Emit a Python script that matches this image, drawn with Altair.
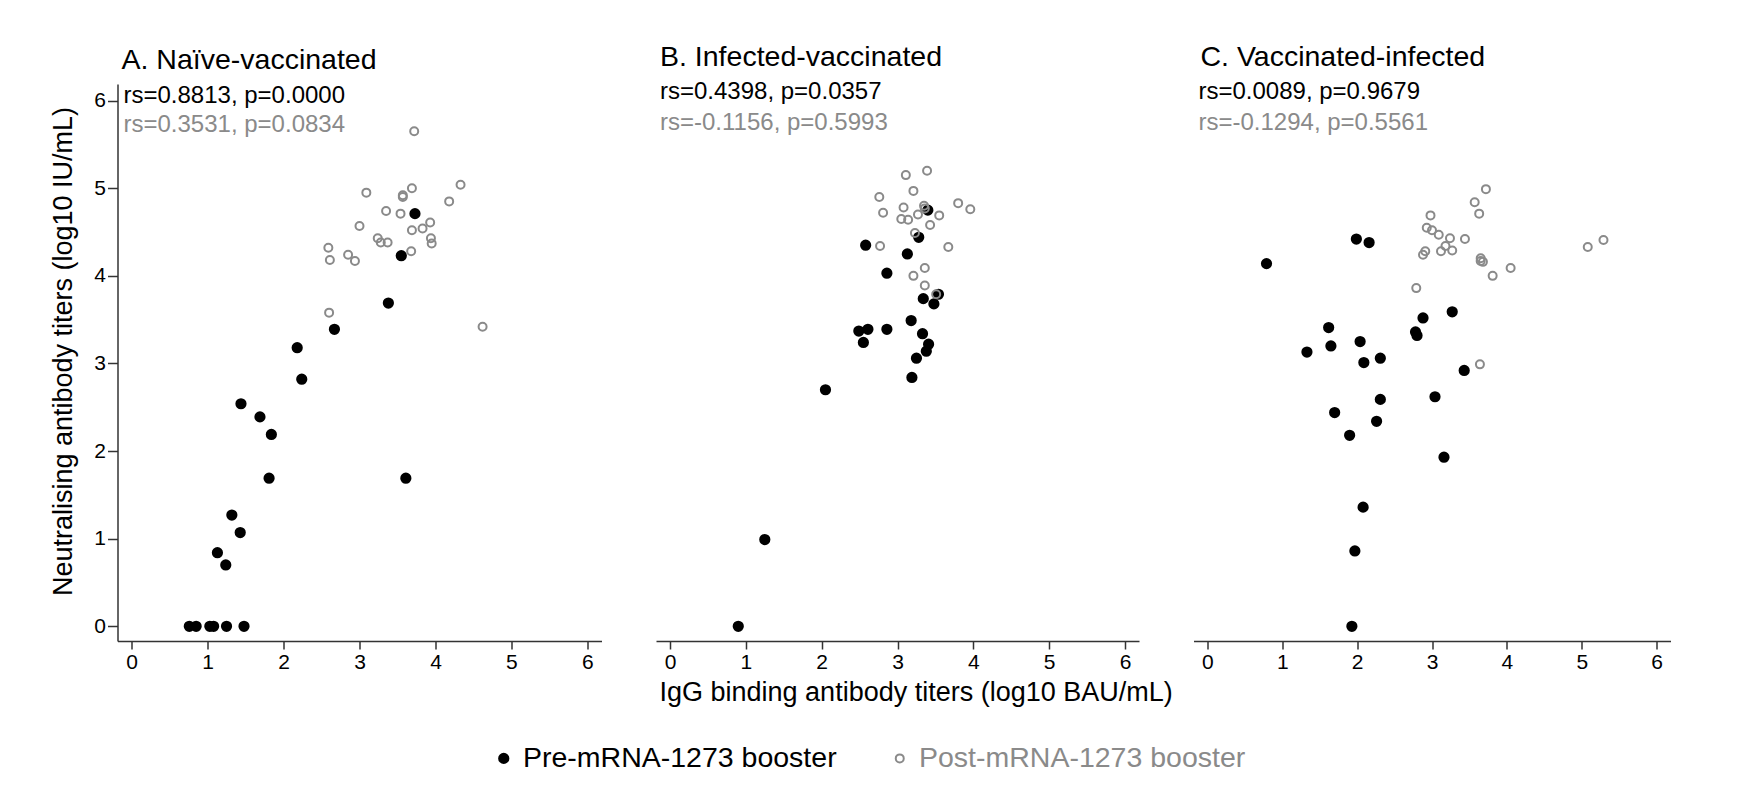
import altair as alt
import pandas as pd

FONT = "Liberation Sans"
GRAY = "#8a8a8a"

panels = ["A. Naïve-vaccinated", "B. Infected-vaccinated", "C. Vaccinated-infected"]
groups = ["Pre-mRNA-1273 booster", "Post-mRNA-1273 booster"]
rs_pre = ["rs=0.8813, p=0.0000", "rs=0.4398, p=0.0357", "rs=0.0089, p=0.9679"]
rs_post = ["rs=0.3531, p=0.0834", "rs=-0.1156, p=0.5993", "rs=-0.1294, p=0.5561"]
x_ticks = [0, 1, 2, 3, 4, 5, 6]
y_ticks = [0, 1, 2, 3, 4, 5, 6]

# Panel A
a_pre_x = [3.73, 3.55, 3.38, 2.67, 2.18, 2.24, 1.44, 1.69, 1.84, 1.81, 3.61, 1.32, 1.43, 1.13, 1.24,
           0.76, 0.85, 1.03, 1.08, 1.25, 1.48]
a_pre_y = [4.71, 4.23, 3.69, 3.39, 3.18, 2.82, 2.54, 2.39, 2.19, 1.69, 1.69, 1.27, 1.07, 0.84, 0.70,
           0, 0, 0, 0, 0, 0]
a_post_x = [3.72, 4.33, 3.09, 3.69, 3.57, 3.57, 4.18, 3.35, 3.54, 3.00, 3.93, 3.83, 3.69, 3.24, 3.28,
            3.37, 3.94, 3.95, 3.68, 2.59, 2.61, 2.85, 2.94, 2.60, 4.62]
a_post_y = [5.65, 5.04, 4.95, 5.00, 4.92, 4.90, 4.85, 4.74, 4.71, 4.57, 4.61, 4.54, 4.52, 4.43, 4.38,
            4.38, 4.43, 4.37, 4.28, 4.32, 4.18, 4.24, 4.17, 3.58, 3.42]

# Panel B
b_pre_x = [3.40, 3.28, 2.58, 3.13, 2.86, 3.54, 3.34, 3.48, 3.18, 2.49, 2.61, 2.86, 2.55, 3.33, 3.41,
           3.38, 3.25, 3.19, 2.05, 1.25, 0.90]
b_pre_y = [4.75, 4.44, 4.35, 4.25, 4.03, 3.79, 3.74, 3.68, 3.49, 3.37, 3.39, 3.39, 3.24, 3.34, 3.22,
           3.14, 3.06, 2.84, 2.70, 0.99, 0.00]
b_post_x = [3.39, 3.11, 3.21, 2.76, 3.80, 3.96, 2.81, 3.08, 3.35, 3.36, 3.27, 3.55, 3.05, 3.14, 3.43,
            3.23, 2.77, 3.67, 3.36, 3.21, 3.36, 3.51]
b_post_y = [5.20, 5.15, 4.97, 4.90, 4.83, 4.76, 4.72, 4.78, 4.80, 4.77, 4.70, 4.69, 4.65, 4.64, 4.58,
            4.49, 4.34, 4.33, 4.09, 4.00, 3.89, 3.79]

# Panel C
c_pre_x = [0.79, 1.99, 2.16, 3.27, 2.88, 2.78, 2.80, 1.62, 1.65, 2.04, 1.33, 2.31, 2.09, 3.43, 2.31,
           3.04, 1.70, 2.26, 1.90, 3.16, 2.08, 1.97, 1.93]
c_pre_y = [4.14, 4.42, 4.38, 3.59, 3.52, 3.36, 3.32, 3.41, 3.20, 3.25, 3.13, 3.06, 3.01, 2.92, 2.59,
           2.62, 2.44, 2.34, 2.18, 1.93, 1.36, 0.86, 0.00]
c_post_x = [3.72, 3.57, 3.63, 2.98, 2.93, 3.00, 3.09, 3.24, 3.44, 3.18, 3.12, 3.27, 2.91, 2.88, 3.65,
            3.65, 3.68, 4.05, 3.81, 5.08, 5.29, 2.79, 3.64]
c_post_y = [4.99, 4.84, 4.71, 4.69, 4.55, 4.52, 4.47, 4.43, 4.42, 4.34, 4.28, 4.29, 4.28, 4.24, 4.20,
            4.17, 4.16, 4.09, 4.00, 4.33, 4.41, 3.86, 2.99]

series = [
    (a_pre_x, a_pre_y, a_post_x, a_post_y),
    (b_pre_x, b_pre_y, b_post_x, b_post_y),
    (c_pre_x, c_pre_y, c_post_x, c_post_y),
]

widths = [484, 483, 477]
HEIGHT = 557
text_pos = [(6, 18.5, 48), (4, 15, 46), (5, 15, 45.5)]
title_dx = [4, 4, 7]

legend = alt.Legend(
    title=None, orient="none", legendX=372, legendY=660, direction="horizontal",
    labelFontSize=28.5, labelFont=FONT, labelLimit=600, padding=0, columnPadding=48, labelOffset=5,
    symbolStrokeWidth=2,
    labelColor={"expr": f"datum.label == '{groups[1]}' ? '{GRAY}' : 'black'"},
)


def make_panel(i):
    px, py, qx, qy = series[i]
    df = pd.DataFrame({
        "x": list(px) + list(qx),
        "y": list(py) + list(qy),
        "group": [groups[0]] * len(px) + [groups[1]] * len(qx),
    })
    if i == 1:
        xaxis = alt.Axis(values=x_ticks, format="d", tickSize=8, labelPadding=2, labelFlush=False,
                         title="IgG binding antibody titers (log10 BAU/mL)", titlePadding=7,
                         titleAlign="left", titleX=3)
    else:
        xaxis = alt.Axis(values=x_ticks, format="d", tickSize=8, labelPadding=2, labelFlush=False,
                         title=None)
    yaxis = alt.Axis(values=y_ticks, format="d", tickSize=10, labelPadding=2, labelFlush=False,
                     title="Neutralising antibody titers (log10 IU/mL)", titlePadding=16,
                     titleY=267) if i == 0 else None
    pts = alt.Chart(df).mark_point(filled=True, opacity=1, strokeWidth=2, shape="circle").encode(
        x=alt.X("x:Q", scale=alt.Scale(domain=[-0.185, 6.185], nice=False, zero=False), axis=xaxis),
        y=alt.Y("y:Q", scale=alt.Scale(domain=[-0.168, 6.19], nice=False, zero=False), axis=yaxis),
        stroke=alt.Stroke("group:N", scale=alt.Scale(domain=groups, range=["black", GRAY]), legend=legend),
        fill=alt.Fill("group:N", scale=alt.Scale(domain=groups, range=["black", "transparent"]), legend=legend),
        size=alt.Size("group:N", scale=alt.Scale(domain=groups, range=[85, 64]), legend=legend),
    )
    tx, ty1, ty2 = text_pos[i]
    t1 = alt.Chart(pd.DataFrame({"t": [rs_pre[i]]})).mark_text(
        align="left", baseline="alphabetic", fontSize=24, font=FONT, color="black"
    ).encode(x=alt.value(tx), y=alt.value(ty1), text="t:N")
    t2 = alt.Chart(pd.DataFrame({"t": [rs_post[i]]})).mark_text(
        align="left", baseline="alphabetic", fontSize=24, font=FONT, color=GRAY
    ).encode(x=alt.value(tx), y=alt.value(ty2), text="t:N")
    return alt.layer(pts, t1, t2).properties(
        width=widths[i], height=HEIGHT,
        title=alt.TitleParams(panels[i], anchor="start", fontSize=28.5, font=FONT, fontWeight="normal",
                              color="black", offset=-14, dx=title_dx[i], baseline="alphabetic",
                              frame="group"),
    )


chart = alt.hconcat(make_panel(0), make_panel(1), make_panel(2), spacing=54.5, bounds="flush").properties(
    padding={"left": 41.5, "top": 34, "right": 5, "bottom": 5}, background="white"
).configure_view(stroke=None).configure_axis(
    domainColor="#333333", tickColor="#333333", domainWidth=1.5, tickWidth=1.5,
    labelFontSize=21, labelFont=FONT, labelColor="black",
    titleFontSize=27, titleFont=FONT, titleColor="black", titleFontWeight="normal", grid=False,
)

chart.save("out.html", embed_options={"renderer": "svg", "actions": False})
